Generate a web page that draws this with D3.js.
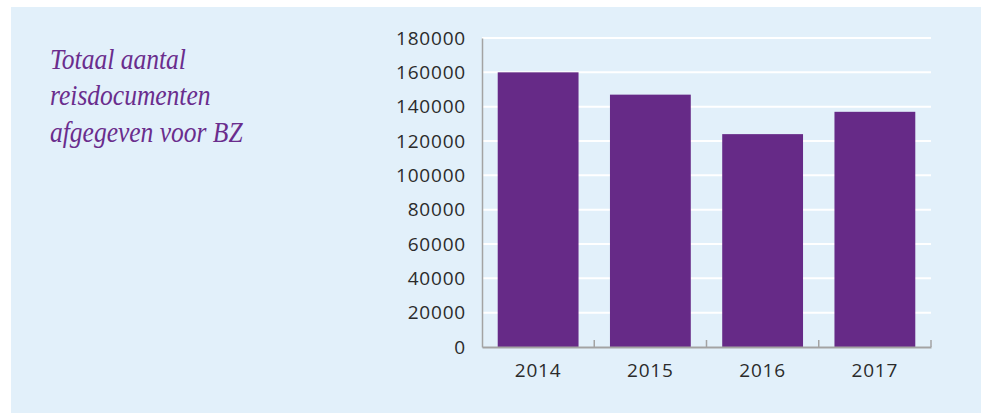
<!DOCTYPE html>
<html>
<head>
<meta charset="utf-8">
<script src="https://cdn.jsdelivr.net/npm/d3@7"></script>
<style>
  body { margin: 0; background: #fff; }
  svg { display: block; }
</style>
</head>
<body>
<div id="chart"></div>
<script>
"use strict"

// data
let years = ["2014", "2015", "2016", "2017"];
let documents = [160000, 147000, 124000, 137000];
let yTicks = [0, 20000, 40000, 60000, 80000, 100000, 120000, 140000, 160000, 180000];
let titleLines = ["Totaal aantal", "reisdocumenten", "afgegeven voor BZ"];

let width = 981, height = 413;
let margin = { left: 482, right: 50, top: 38, bottom: 66 };

let svg = d3.select("#chart").append("svg")
    .attr("width", width)
    .attr("height", height);

// light blue panel
svg.append("rect")
    .attr("x", 11)
    .attr("y", 7)
    .attr("width", width - 11)
    .attr("height", height - 7)
    .style("fill", "#e2f0fa");

// title (narrow italic, squeezed horizontally)
let title = svg.append("text")
    .attr("transform", "translate(50,69) scale(0.88,1)")
    .style("font-family", "'Liberation Serif', serif")
    .style("font-style", "italic")
    .style("font-size", "29px")
    .style("fill", "#6a2d8d");

title.selectAll("tspan")
    .data(titleLines)
    .enter().append("tspan")
    .attr("x", 0)
    .attr("dy", (d, i) => i === 0 ? 0 : 36.5)
    .text(d => d);

let x = d3.scaleBand()
    .domain(years)
    .range([margin.left, width - margin.right])
    .paddingInner(0.28)
    .paddingOuter(0.14);

let y = d3.scaleLinear()
    .domain([0, 180000])
    .range([height - margin.bottom, margin.top]);

// white gridlines
svg.append("g")
    .selectAll("line")
    .data(yTicks.slice(1))
    .enter().append("line")
    .attr("x1", margin.left)
    .attr("x2", width - margin.right)
    .attr("y1", d => y(d))
    .attr("y2", d => y(d))
    .style("stroke", "#ffffff")
    .style("stroke-width", "2px");

// bars
svg.append("g")
    .selectAll("rect")
    .data(documents)
    .enter().append("rect")
    .attr("x", (d, i) => x(years[i]))
    .attr("y", d => y(d))
    .attr("width", x.bandwidth())
    .attr("height", d => y(0) - y(d))
    .style("fill", "#662a87");

// y axis
let yAxis = svg.append("g")
    .attr("transform", "translate(" + margin.left + ",0)")
    .call(d3.axisLeft(y).tickValues(yTicks).tickSize(0).tickPadding(16).tickFormat(d3.format("d")));

yAxis.select(".domain")
    .style("stroke", "#a3a3a3")
    .style("stroke-width", "1.5px");

yAxis.selectAll("text")
    .style("font-family", "'Open Sans', sans-serif")
    .style("font-size", "19px")
    .style("letter-spacing", "0.8px")
    .style("fill", "#2b2b2b");

// x axis with boundary ticks pointing up
let xAxis = svg.append("g")
    .attr("transform", "translate(0," + y(0) + ")")
    .call(d3.axisBottom(x).tickSize(0).tickPadding(17));

xAxis.select(".domain")
    .style("stroke", "#a3a3a3")
    .style("stroke-width", "2px");

xAxis.selectAll("text")
    .style("font-family", "'Open Sans', sans-serif")
    .style("font-size", "19px")
    .style("letter-spacing", "0.8px")
    .style("fill", "#2b2b2b");

let step = x.step();
xAxis.selectAll(".boundary")
    .data(years)
    .enter().append("line")
    .attr("class", "boundary")
    .attr("x1", d => x(d) + x.bandwidth() + step * x.paddingInner() / 2)
    .attr("x2", d => x(d) + x.bandwidth() + step * x.paddingInner() / 2)
    .attr("y1", 0)
    .attr("y2", -7)
    .style("stroke", "#a3a3a3")
    .style("stroke-width", "1.5px");
</script>
</body>
</html>
